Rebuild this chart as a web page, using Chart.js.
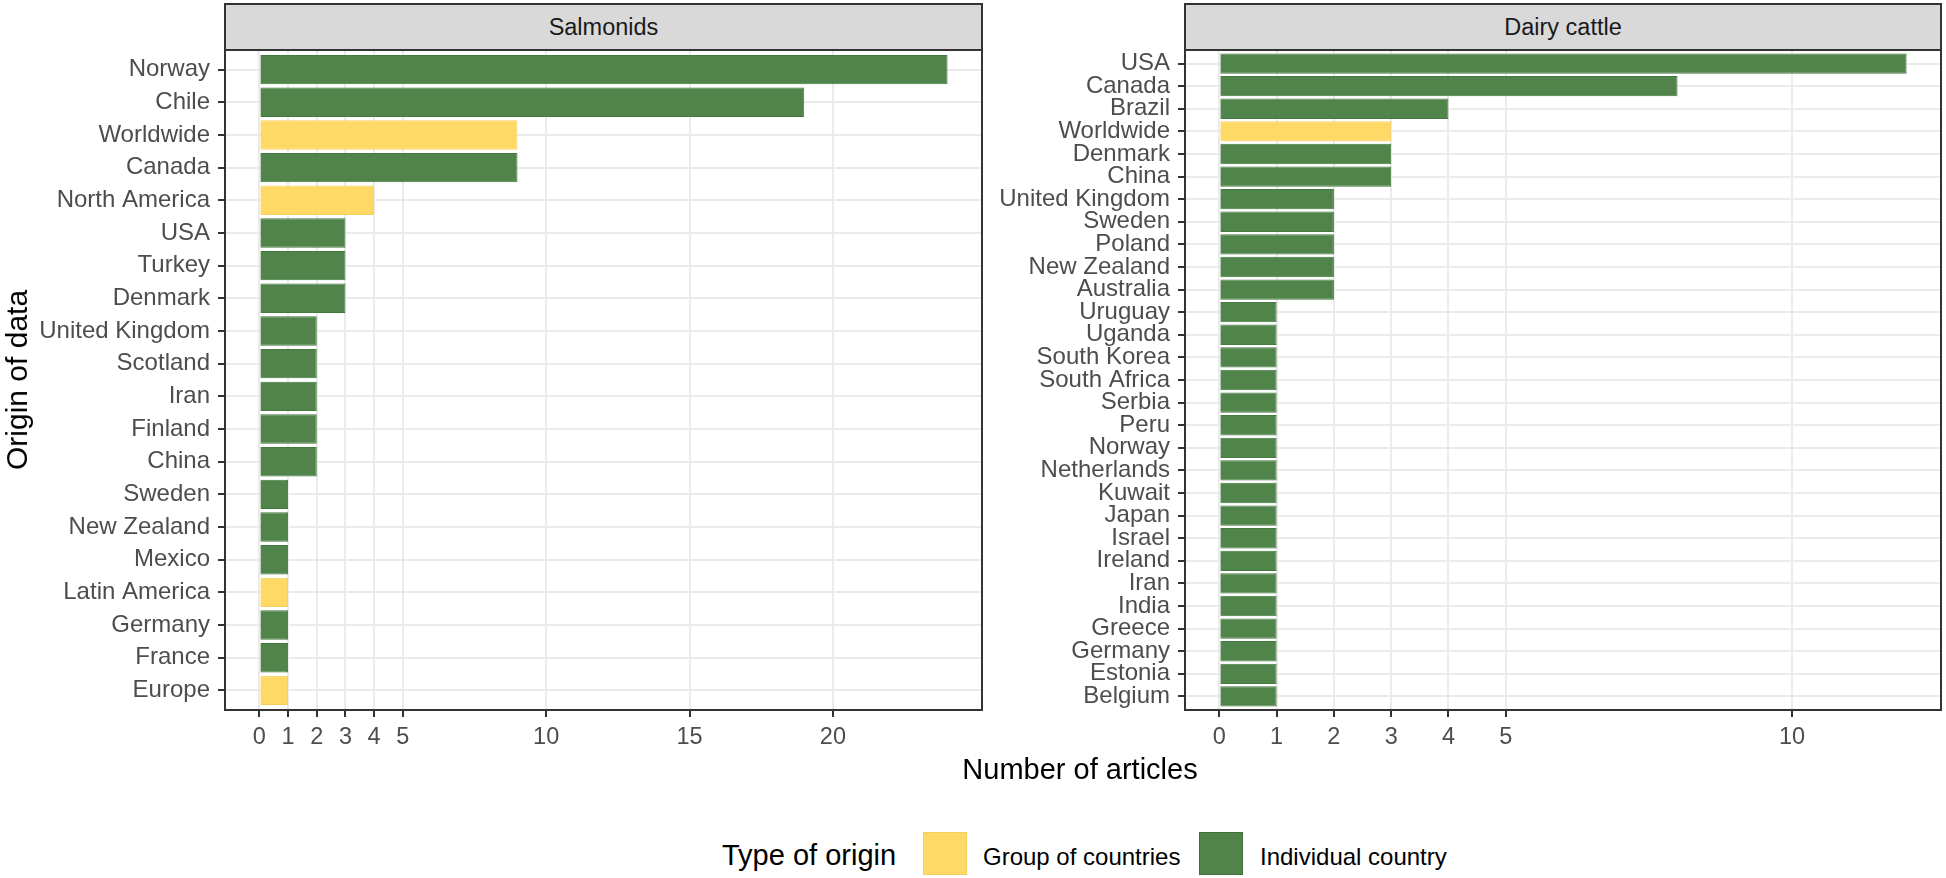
<!DOCTYPE html>
<html>
<head>
<meta charset="utf-8">
<script src="https://cdn.jsdelivr.net/npm/chart.js@4.4.1/dist/chart.umd.min.js"></script>
<style>
  html, body { margin: 0; padding: 0; background: #ffffff; }
  body { width: 1946px; height: 878px; position: relative; overflow: hidden; font-family: "Liberation Sans", Arial, sans-serif; }
  canvas { position: absolute; top: 0; }
  .strip { position: absolute; top: 3px; height: 48px; box-sizing: border-box; background: #D9D9D9; border: 2px solid #333333; color: #1A1A1A; font-size: 23.5px; display: flex; align-items: center; justify-content: center; }
  .txt { position: absolute; white-space: nowrap; line-height: 1; color: #000; }
  .key { position: absolute; top: 832px; width: 44px; height: 43px; box-sizing: border-box; }
</style>
</head>
<body>
<canvas id="salmon" width="990" height="760" style="left:0px"></canvas>
<canvas id="dairy" width="956" height="760" style="left:990px"></canvas>

<div class="strip" style="left:224px; width:759px;">Salmonids</div>
<div class="strip" style="left:1184px; width:758px;">Dairy cattle</div>

<div class="txt" style="left:17px; top:380px; font-size:30px; transform: translate(-50%,-50%) rotate(-90deg);">Origin of data</div>
<div class="txt" style="left:880px; width:400px; text-align:center; top:755px; font-size:29px;">Number of articles</div>

<div class="txt" style="left:722px; top:841px; font-size:29px;">Type of origin</div>
<div class="key" style="left:923px; background:#FFD966; border:1px solid #F3CF5E;"></div>
<div class="txt" style="left:983px; top:845px; font-size:24px;">Group of countries</div>
<div class="key" style="left:1199px; background:#51844B; border:1px solid #3E7239;"></div>
<div class="txt" style="left:1260px; top:845px; font-size:24px;">Individual country</div>

<script>
// ---------- data ----------
const salmonLabels = ["Norway","Chile","Worldwide","Canada","North America","USA","Turkey","Denmark","United Kingdom","Scotland","Iran","Finland","China","Sweden","New Zealand","Mexico","Latin America","Germany","France","Europe"];
const salmonValues = [24,19,9,9,4,3,3,3,2,2,2,2,2,1,1,1,1,1,1,1];
const salmonTypes  = ["I","I","G","I","G","I","I","I","I","I","I","I","I","I","I","I","G","I","I","G"];
const salmonTicks  = [0,1,2,3,4,5,10,15,20];

const dairyLabels = ["USA","Canada","Brazil","Worldwide","Denmark","China","United Kingdom","Sweden","Poland","New Zealand","Australia","Uruguay","Uganda","South Korea","South Africa","Serbia","Peru","Norway","Netherlands","Kuwait","Japan","Israel","Ireland","Iran","India","Greece","Germany","Estonia","Belgium"];
const dairyValues = [12,8,4,3,3,3,2,2,2,2,2,1,1,1,1,1,1,1,1,1,1,1,1,1,1,1,1,1,1];
const dairyTypes  = ["I","I","I","G","I","I","I","I","I","I","I","I","I","I","I","I","I","I","I","I","I","I","I","I","I","I","I","I","I"];
const dairyTicks  = [0,1,2,3,4,5,10];

const typeFill   = { G: "#FFD966", I: "#51844B" };
const typeBorder = { G: "#F3CF5E", I: "#437A3D" };

// ---------- helpers ----------
const panelBorder = {
  id: "panelBorder",
  afterDraw(chart) {
    const a = chart.chartArea, ctx = chart.ctx;
    ctx.save();
    ctx.strokeStyle = "#333333";
    ctx.lineWidth = 2;
    ctx.strokeRect(a.left, a.top, a.right - a.left, a.bottom - a.top);
    ctx.restore();
  }
};

function makePanel(id, labels, values, types, ticks, yWidth, padRight) {
  const maxV = Math.max(...values);
  const n = labels.length;
  return new Chart(document.getElementById(id), {
    type: "bar",
    data: {
      datasets: [{
        data: values.map((v, i) => ({ x: v, y: i })),
        backgroundColor: types.map(t => typeFill[t]),
        borderColor: types.map(t => typeBorder[t]),
        borderWidth: 1,
        categoryPercentage: 1,
        barPercentage: 0.9
      }]
    },
    options: {
      indexAxis: "y",
      responsive: false,
      animation: false,
      devicePixelRatio: 1,
      layout: { padding: { top: 50, right: padRight, left: 0, bottom: 0 } },
      plugins: { legend: { display: false }, tooltip: { enabled: false } },
      scales: {
        x: {
          type: "linear",
          position: "bottom",
          offset: false,
          min: -0.05 * maxV,
          max: 1.05 * maxV,
          bounds: "data",
          afterBuildTicks: s => { s.ticks = ticks.map(v => ({ value: v })); },
          afterFit: s => { s.height = 50; },
          ticks: { autoSkip: false, maxRotation: 0, color: "#4D4D4D", padding: 6,
                   font: { family: "Liberation Sans", size: 23.5 } },
          grid: { offset: false, color: "#EBEBEB", lineWidth: 2, tickColor: "#333333", tickWidth: 2, tickLength: 7 },
          border: { display: false }
        },
        y: {
          type: "linear",
          reverse: true,
          offset: false,
          min: -0.6,
          max: n - 1 + 0.6,
          bounds: "data",
          afterBuildTicks: s => { s.ticks = labels.map((_, i) => ({ value: i })); },
          afterFit: s => { s.width = yWidth; },
          ticks: { autoSkip: false, color: "#4D4D4D", padding: 8,
                   font: { family: "Liberation Sans", size: 24 },
                   callback: v => labels[v] },
          grid: { offset: false, color: "#EBEBEB", lineWidth: 2, tickColor: "#333333", tickWidth: 2, tickLength: 7 },
          border: { display: false }
        }
      }
    },
    plugins: [panelBorder]
  });
}

makePanel("salmon", salmonLabels, salmonValues, salmonTypes, salmonTicks, 225, 8);
makePanel("dairy", dairyLabels, dairyValues, dairyTypes, dairyTicks, 195, 5);
</script>
</body>
</html>
